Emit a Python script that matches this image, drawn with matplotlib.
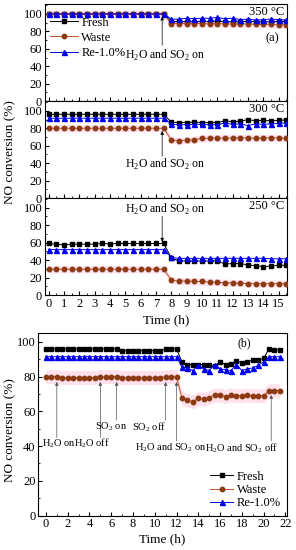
import numpy as np
import matplotlib
matplotlib.use("Agg")
import matplotlib.pyplot as plt
from matplotlib.ticker import MultipleLocator

plt.rcParams['font.family'] = ['Liberation Serif', 'DejaVu Serif']
plt.rcParams['mathtext.fontset'] = 'custom'
plt.rcParams['mathtext.rm'] = 'Liberation Serif'
plt.rcParams['font.size'] = 9

# ---- (a) stability at 350 / 300 / 250 C, H2O + SO2 switched on at ~7.5 h ----
time_a = [0.0, 0.5, 1.0, 1.5, 2.0, 2.5, 3.0, 3.5, 4.0, 4.5, 5.0, 5.5, 6.0, 6.5, 7.0, 7.5,
          8.0, 8.5, 9.0, 9.5, 10.0, 10.5, 11.0, 11.5, 12.0, 12.5, 13.0, 13.5, 14.0, 14.5, 15.0, 15.5]

fresh_350 = [100, 100, 100, 100, 100, 100, 100, 100, 100, 100, 100, 100, 100, 100, 100, 100,
             91, 91.5, 91, 91, 91.5, 91, 91.5, 91, 91, 91, 91.5, 91, 91, 91, 91.5, 91]
waste_350 = [100, 100, 100, 100, 100, 100, 100, 100, 100, 100, 100, 100, 100, 100, 100, 100,
             89, 89, 89, 89, 89, 88.5, 89, 88.5, 88.5, 88.5, 88.5, 88, 88, 88, 87.5, 87.5]
re_350 = [100, 100, 100, 100, 100, 100, 100, 100, 100, 100, 100, 100, 100, 100, 100, 100,
          94, 94, 95, 94.5, 95, 95, 96, 94.5, 95, 93.5, 94, 93, 93.5, 94, 93.5, 93]

fresh_300 = [96, 96, 96, 96, 96, 96, 96, 96, 96, 96, 96, 96, 96, 96, 96, 96,
             87, 86.5, 86.5, 87, 86.5, 86.5, 86.5, 88.5, 87.5, 88, 90, 88.5, 89, 88.5, 89, 89.5]
waste_300 = [80, 80, 80, 80, 80, 80, 80, 80, 80, 80, 80, 80, 80, 80, 80, 80,
             66.5, 65.5, 66.5, 67, 68.5, 68.5, 69, 68.5, 69, 69, 69, 68.5, 69, 69, 69, 68.5]
re_300 = [91.5, 91.5, 91.5, 91.5, 91.5, 91.5, 91.5, 91.5, 91.5, 91.5, 91.5, 91.5, 91.5, 91.5, 91.5, 91.5,
          84.5, 84, 84, 84.5, 84.5, 84, 84, 86, 84.5, 85, 83, 85, 84.5, 85, 85.5, 86]

fresh_250 = [59, 58, 57.5, 58, 58.5, 58, 58.5, 59, 58.5, 59, 59, 59, 59, 59, 59, 59,
             42.5, 39, 39, 39, 39, 39, 39, 35.5, 36, 36, 34.5, 33.5, 32.5, 33, 34, 34]
waste_250 = [29.5, 29.5, 29.5, 29.5, 29.5, 29.5, 29.5, 29.5, 29.5, 29.5, 29.5, 29.5, 29.5, 29.5, 29.5, 29.5,
             17, 16, 16, 15.5, 15.5, 15, 14.5, 14, 14, 13.5, 13, 13, 13, 13, 13, 13]
re_250 = [52, 52, 52, 52, 52, 52, 52, 52, 52, 52, 52, 52, 52, 52, 52, 52,
          43, 42, 42, 42, 42, 42, 42, 42, 42, 42, 42, 42, 42, 41.5, 41.5, 41.5]

temps_a = ["350 °C", "300 °C", "250 °C"]

# ---- (b) H2O / SO2 switching at 300 C ----
time_b = [0.0, 0.5, 1.0, 1.5, 2.0, 2.5, 3.0, 3.5, 4.0, 4.5, 5.0, 5.5, 6.0, 6.5, 7.0, 7.5,
          8.0, 8.5, 9.0, 9.5, 10.0, 10.5, 11.0, 11.5, 12.0, 12.5, 13.0, 13.5, 14.0, 14.5, 15.0,
          15.5, 16.0, 16.5, 17.0, 17.5, 18.0, 18.5, 19.0, 19.5, 20.0, 20.5, 21.0, 21.5]
fresh_b = [96, 96, 96, 96, 96, 96, 96, 96, 96, 96, 96, 96, 96, 96,
           95, 95, 95, 95, 95, 95, 95, 95, 96, 96, 96,
           88.5, 87, 87, 87, 87, 86.5, 86, 88.5, 87, 87.5, 89, 88, 88.5, 89.5, 89.5, 90.5,
           96, 95.5, 95.5]
waste_b = [80, 80, 80, 79.5, 79.5, 79.5, 79.5, 79.5, 79.5, 79.5, 80, 80, 80, 80,
           79.5, 79.5, 79.5, 79.5, 79.5, 79.5, 79.5, 79.5, 80, 80, 80,
           67.5, 66.5, 65.5, 67.5, 67, 68, 69.5, 69.5, 68.5, 69.5, 69, 69, 69.5, 69, 69, 69,
           72, 72, 72]
re_b = [91.5, 91.5, 91.5, 91.5, 91.5, 91.5, 91.5, 91.5, 91.5, 91.5, 91.5, 91.5, 91.5, 91.5,
        91.5, 91.5, 91.5, 91.5, 91.5, 91.5, 91.5, 91.5, 91.5, 91.5, 91.5,
        85.5, 85, 83.5, 86.5, 84.5, 83.5, 87, 84.5, 84, 83.5, 87, 83.5, 84.5, 85, 86.5, 88.5,
        91.5, 91.5, 91.5]

# switching events in (b): time, arrow bottom, arrow top, label, label x, label y
event_t = [1.0, 5.0, 6.5, 11.0, 12.0, 20.7]
event_bottom = [45, 45, 55, 55, 43, 43]
event_top = [77, 77, 77, 77, 77, 69.5]
event_labels = ["H$_2$O on", "H$_2$O off", "SO$_2$ on", "SO$_2$ off",
                "H$_2$O and SO$_2$ on", "H$_2$O and SO$_2$ off"]
event_text_x = [1.2, 4.2, 5.95, 9.5, 11.5, 18.0]
event_text_y = [41.5, 41.5, 51, 51, 39, 39]

labels = ["Fresh", "Waste", "Re-1.0%"]
COL_F = 'black'
COL_W_LINE = '#c0502a'
COL_W_MK = '#8b3a12'
COL_R = '#0000ee'
PINK = '#ffe0ec'


def draw_series(ax, t, f, w, r, ms=3.2):
    t = np.array(t)
    w = np.array(w)
    ax.fill_between(t, w - 4, w + 4, color=PINK, lw=0, zorder=0)
    ax.plot(t, f, '-s', color=COL_F, lw=0.7, ms=ms, label=labels[0], zorder=3)
    ax.plot(t, w, '-o', color=COL_W_LINE, mfc=COL_W_MK, mec=COL_W_MK, lw=0.7,
            ms=ms, label=labels[1], zorder=3)
    ax.plot(t, r, '-^', color=COL_R, lw=0.7, ms=ms + 0.4, label=labels[2], zorder=3)


def style_axis(ax):
    ax.tick_params(which='both', direction='in', labelsize=9, pad=2)
    ax.tick_params(which='major', length=3)
    ax.tick_params(which='minor', length=1.6)
    for s in ax.spines.values():
        s.set_linewidth(0.8)


fig = plt.figure(figsize=(2.96, 5.5), dpi=100)

# ---------- (a) ----------
W = 296.0
H = 550.0
left_a = 45 / W
width_a = (287 - 45) / W
top_px = 4.3
bot_px = 295.0
ph = (bot_px - top_px) / 3

data_a = [(fresh_350, waste_350, re_350), (fresh_300, waste_300, re_300),
          (fresh_250, waste_250, re_250)]
axes_a = []
for i in range(3):
    y0 = 1 - (top_px + (i + 1) * ph) / H
    ax = fig.add_axes([left_a, y0, width_a, ph / H])
    f, w, r = data_a[i]
    draw_series(ax, time_a, f, w, r)
    ax.set_xlim(-0.25, 15.55)
    ax.set_ylim(0, 111)
    ax.set_yticks([0, 20, 40, 60, 80, 100])
    ax.yaxis.set_minor_locator(MultipleLocator(10))
    ax.set_xticks(range(0, 16))
    ax.xaxis.set_minor_locator(MultipleLocator(0.5))
    style_axis(ax)
    if i < 2:
        ax.tick_params(labelbottom=False)
    ax.text(0.99, 0.985, temps_a[i], transform=ax.transAxes, ha='right', va='top', fontsize=9)
    axes_a.append(ax)

ax1, ax2, ax3 = axes_a
ax1.legend(loc='upper left', bbox_to_anchor=(-0.01, 0.95), frameon=False, fontsize=9,
           handlelength=2.2, handletextpad=0.3, labelspacing=0.25, borderaxespad=0.2)
ax1.text(0.94, 0.65, "(a)", transform=ax1.transAxes, ha='center', va='center', fontsize=9)

arrow = dict(arrowstyle='-|>', color='black', lw=0.5, mutation_scale=5, shrinkA=0, shrinkB=0)
ax1.annotate('', xy=(7.4, 97), xytext=(7.4, 64), arrowprops=arrow)
ax1.text(7.6, 52, "H$_2$O and SO$_2$ on", ha='center', va='center', fontsize=8.5)
ax2.annotate('', xy=(7.4, 77), xytext=(7.4, 48), arrowprops=arrow)
ax2.text(7.6, 38, "H$_2$O and SO$_2$ on", ha='center', va='center', fontsize=8.5)
ax3.annotate('', xy=(7.4, 61), xytext=(7.4, 90), arrowprops=arrow)
ax3.text(7.6, 98, "H$_2$O and SO$_2$ on", ha='center', va='center', fontsize=8.5)

ax3.set_xlabel("Time (h)", fontsize=9.5, labelpad=3)
fig.text(0.035, 1 - 152 / H, "NO conversion (%)", rotation=90, ha='center', va='center',
         fontsize=9.5)

# ---------- (b) ----------
left_b = 38.3 / W
axb = fig.add_axes([left_b, 1 - 515.5 / H, (287 - 38.3) / W, (515.5 - 333.3) / H])
draw_series(axb, time_b, fresh_b, waste_b, re_b)
axb.set_xlim(-0.7, 22.15)
axb.set_ylim(0, 105)
axb.set_xticks(range(0, 23, 2))
axb.xaxis.set_minor_locator(MultipleLocator(1))
axb.set_yticks([0, 20, 40, 60, 80, 100])
axb.yaxis.set_minor_locator(MultipleLocator(10))
style_axis(axb)

arrow_b = dict(arrowstyle='-|>', color='#555555', lw=0.5, mutation_scale=5, shrinkA=0, shrinkB=0)
for t, yb, yt, lab, tx, ty in zip(event_t, event_bottom, event_top, event_labels,
                                  event_text_x, event_text_y):
    axb.annotate('', xy=(t, yt), xytext=(t, yb), arrowprops=arrow_b)
    axb.text(tx, ty, lab, ha='center', va='center', fontsize=7.5)

axb.text(0.83, 0.945, "(b)", transform=axb.transAxes, ha='center', va='center', fontsize=8.5)
axb.legend(loc='lower right', frameon=False, fontsize=9, handlelength=1.8,
           handletextpad=0.3, labelspacing=0.1, borderaxespad=0.1)
axb.set_xlabel("Time (h)", fontsize=9.5, labelpad=2)
fig.text(0.035, 1 - 430 / H, "NO conversion (%)", rotation=90, ha='center', va='center',
         fontsize=9.5)

fig.savefig("out.png", dpi=100)
plt.close(fig)
